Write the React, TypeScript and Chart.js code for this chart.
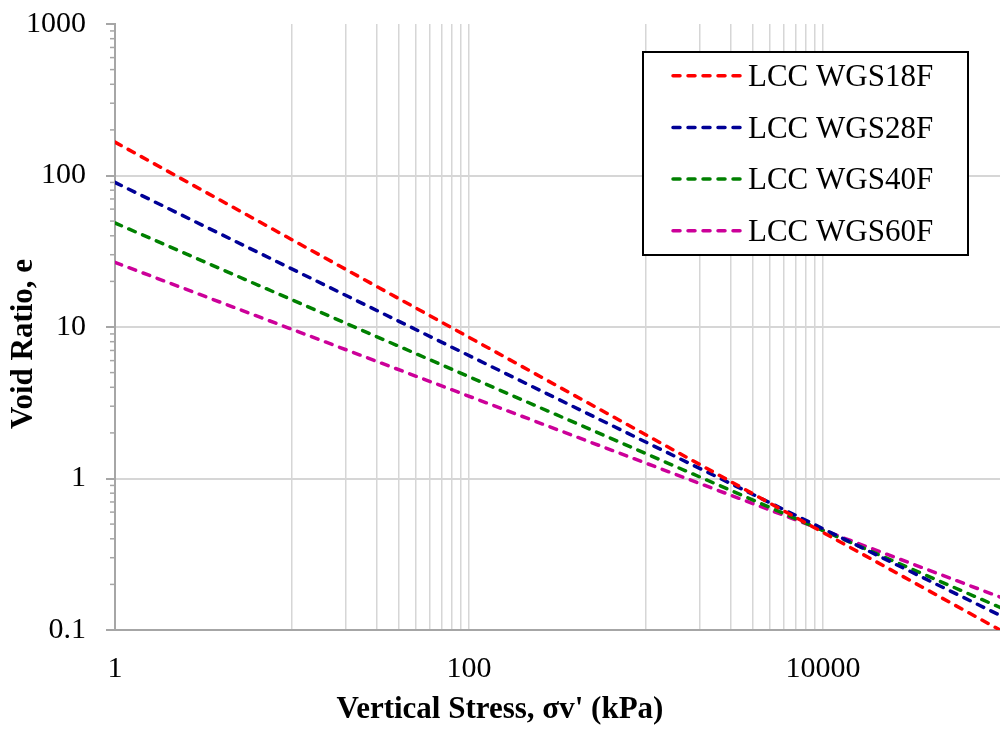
import React, { useEffect, useRef } from "react";
import { Chart, registerables } from "chart.js";

Chart.register(...registerables);

// ---------- data ----------
const stressKPa = [1, 100000];
const seriesLabels = ["LCC WGS18F", "LCC WGS28F", "LCC WGS40F", "LCC WGS60F"];
const voidWGS18F = [166, 0.1];
const voidWGS28F = [90, 0.125];
const voidWGS40F = [48.6, 0.141];
const voidWGS60F = [26.7, 0.165];
const seriesValues = [voidWGS18F, voidWGS28F, voidWGS40F, voidWGS60F];
const seriesColors = ["#FF0000", "#000096", "#008000", "#CC0099"];

const xGridValues = [
  1, 10, 20, 30, 40, 50, 60, 70, 80, 90, 100,
  1000, 2000, 3000, 4000, 5000, 6000, 7000, 8000, 9000, 10000, 100000,
];
const xTickLabels = [1, 100, 10000];
const yTickValues = [0.1, 1, 10, 100, 1000];
const yGridValues = [1, 10, 100];
const yMinorValues = [
  0.2, 0.3, 0.4, 0.5, 0.6, 0.7, 0.8, 0.9,
  2, 3, 4, 5, 6, 7, 8, 9,
  20, 30, 40, 50, 60, 70, 80, 90,
  200, 300, 400, 500, 600, 700, 800, 900,
];

const xTitle = "Vertical Stress, \u03c3v' (kPa)";
const yTitle = "Void Ratio, e";

// ---------- styling ----------
const FONT = "'Liberation Serif', 'Times New Roman', Times, serif";
const AXIS_GRAY = "#a6a6a6";
const GRID_GRAY = "#d6d6d6";
const CLEAR = "rgba(0,0,0,0)";
const DASH = [7, 8];

const overlayPlugin = {
  id: "overlay",
  afterDraw(chart: any) {
    const ctx = chart.ctx as CanvasRenderingContext2D;
    const yScale = chart.scales.y;

    // tick marks on the y axis (major and minor)
    ctx.save();
    ctx.strokeStyle = AXIS_GRAY;
    ctx.lineWidth = 2;
    for (const v of yTickValues) {
      const py = Math.round(yScale.getPixelForValue(v));
      ctx.beginPath();
      ctx.moveTo(yScale.right - 9, py);
      ctx.lineTo(yScale.right, py);
      ctx.stroke();
    }
    ctx.lineWidth = 1.5;
    for (const v of yMinorValues) {
      const py = yScale.getPixelForValue(v);
      ctx.beginPath();
      ctx.moveTo(yScale.right - 5, py);
      ctx.lineTo(yScale.right, py);
      ctx.stroke();
    }
    ctx.restore();

    // y axis title
    ctx.save();
    ctx.translate(32, 344);
    ctx.rotate(-Math.PI / 2);
    ctx.font = `bold 31px ${FONT}`;
    ctx.fillStyle = "#000";
    ctx.textAlign = "center";
    ctx.textBaseline = "alphabetic";
    ctx.fillText(yTitle, 0, 0);
    ctx.restore();

    // legend box
    ctx.save();
    const bx = 643, by = 52, bw = 325, bh = 203;
    ctx.fillStyle = "#fff";
    ctx.fillRect(bx, by, bw, bh);
    ctx.strokeStyle = "#000";
    ctx.lineWidth = 2;
    ctx.strokeRect(bx, by, bw, bh);
    chart.data.datasets.forEach((ds: any, i: number) => {
      const cy = 75.7 + i * 51.7;
      ctx.setLineDash(DASH);
      ctx.lineCap = "round";
      ctx.lineWidth = 3.5;
      ctx.strokeStyle = ds.borderColor;
      ctx.beginPath();
      ctx.moveTo(673, cy);
      ctx.lineTo(742, cy);
      ctx.stroke();
      ctx.setLineDash([]);
      ctx.fillStyle = "#000";
      ctx.font = `31px ${FONT}`;
      ctx.textAlign = "left";
      ctx.textBaseline = "alphabetic";
      ctx.fillText(ds.label, 748, cy + 10.3);
    });
    ctx.restore();
  },
};

export default function App() {
  const canvasRef = useRef<HTMLCanvasElement | null>(null);

  useEffect(() => {
    if (!canvasRef.current) return;
    const datasets = seriesLabels.map((label, i) => ({
      label,
      data: stressKPa.map((x, j) => ({ x, y: seriesValues[i][j] })),
      borderColor: seriesColors[i],
      backgroundColor: seriesColors[i],
      borderWidth: 3.5,
      borderDash: DASH,
      borderCapStyle: "round" as const,
      pointRadius: 0,
      showLine: true,
      fill: false,
      tension: 0,
    }));

    const chart = new Chart(canvasRef.current, {
      type: "scatter",
      data: { datasets },
      options: {
        animation: false,
        responsive: false,
        maintainAspectRatio: false,
        devicePixelRatio: 1,
        layout: { padding: { top: 24, right: 0, bottom: 0, left: 0 } },
        plugins: {
          legend: { display: false },
          tooltip: { enabled: false },
          title: {
            display: true,
            position: "bottom",
            text: xTitle,
            color: "#000",
            font: { family: FONT, size: 31, weight: "bold", lineHeight: 1.2 },
            padding: { top: 0, bottom: 0 },
          },
        },
        scales: {
          x: {
            type: "logarithmic",
            min: 1,
            max: 100000,
            afterBuildTicks: (s: any) => {
              s.ticks = xGridValues.map((v) => ({ value: v }));
            },
            afterFit: (s: any) => {
              s.height = 61.8;
            },
            ticks: {
              autoSkip: false,
              maxRotation: 0,
              minRotation: 0,
              padding: 0,
              color: "#000",
              font: { family: FONT, size: 30, lineHeight: 1.2 },
              callback: (v: any) => (xTickLabels.includes(Number(v)) ? String(v) : ""),
            },
            grid: {
              drawTicks: true,
              tickLength: 21,
              tickColor: CLEAR,
              lineWidth: 1.5,
              color: (c: any) =>
                c.tick && (c.tick.value === 1 || c.tick.value === 100000) ? CLEAR : GRID_GRAY,
            },
            border: { display: true, color: AXIS_GRAY, width: 2 },
          },
          y: {
            type: "logarithmic",
            min: 0.1,
            max: 1000,
            afterBuildTicks: (s: any) => {
              s.ticks = yTickValues.map((v) => ({ value: v }));
            },
            afterFit: (s: any) => {
              s.width = 115;
            },
            ticks: {
              autoSkip: false,
              padding: 0,
              color: "#000",
              font: { family: FONT, size: 30, lineHeight: 1.2 },
              callback: (v: any) => String(Number(v)),
            },
            grid: {
              drawTicks: true,
              tickLength: 29,
              tickColor: CLEAR,
              lineWidth: 2,
              color: (c: any) =>
                c.tick && yGridValues.includes(c.tick.value) ? GRID_GRAY : CLEAR,
            },
            border: { display: true, color: AXIS_GRAY, width: 2 },
          },
        },
      },
      plugins: [overlayPlugin],
    } as any);

    return () => chart.destroy();
  }, []);

  return (
    <div style={{ position: "absolute", left: 0, top: 0, width: 1000, height: 729, background: "#fff" }}>
      <canvas ref={canvasRef} width={1000} height={729} style={{ width: 1000, height: 729, display: "block" }} />
    </div>
  );
}
